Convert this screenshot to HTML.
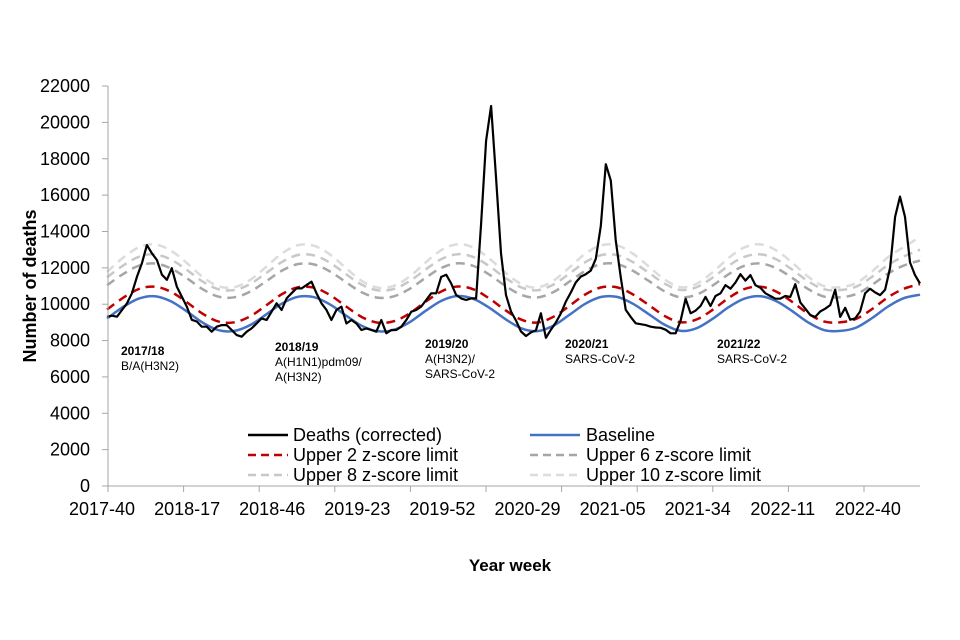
<!DOCTYPE html>
<html><head><meta charset="utf-8"><style>
body{margin:0;background:#fff;}
svg{display:block;font-family:"Liberation Sans",Arial,sans-serif;}
</style></head><body>
<svg id="chart" width="960" height="640" viewBox="0 0 960 640" xmlns="http://www.w3.org/2000/svg">
<rect width="960" height="640" fill="#fff"/>
<g id="grid"></g>
<g id="series"></g>
<g id="axes"></g>
<text x="0" y="0" transform="translate(36,286) rotate(-90)" text-anchor="middle" font-size="18" font-weight="bold">Number of deaths</text>
<text x="510" y="571" text-anchor="middle" font-size="17" font-weight="bold">Year week</text>
<g font-size="12">
<text x="121" y="355" font-weight="bold">2017/18</text><text x="121" y="370">B/A(H3N2)</text>
<text x="275" y="351" font-weight="bold">2018/19</text><text x="275" y="366">A(H1N1)pdm09/</text><text x="275" y="381">A(H3N2)</text>
<text x="425" y="348" font-weight="bold">2019/20</text><text x="425" y="363">A(H3N2)/</text><text x="425" y="378">SARS-CoV-2</text>
<text x="565" y="348" font-weight="bold">2020/21</text><text x="565" y="363">SARS-CoV-2</text>
<text x="717" y="348" font-weight="bold">2021/22</text><text x="717" y="363">SARS-CoV-2</text>
</g>
<g font-size="18">
<g><line x1="248" y1="435" x2="288" y2="435" stroke="#000" stroke-width="2.5"/><text x="293" y="441">Deaths (corrected)</text></g>
<g><line x1="530" y1="435" x2="580" y2="435" stroke="#4472c4" stroke-width="2.5"/><text x="586" y="441">Baseline</text></g>
<g><line x1="248" y1="455" x2="288" y2="455" stroke="#c00000" stroke-width="2.5" stroke-dasharray="8,5"/><text x="293" y="461">Upper 2 z-score limit</text></g>
<g><line x1="530" y1="455" x2="580" y2="455" stroke="#a6a6a6" stroke-width="2.5" stroke-dasharray="8,5"/><text x="586" y="461">Upper 6 z-score limit</text></g>
<g><line x1="248" y1="475" x2="288" y2="475" stroke="#c8c8c8" stroke-width="2.5" stroke-dasharray="8,5"/><text x="293" y="481">Upper 8 z-score limit</text></g>
<g><line x1="530" y1="475" x2="580" y2="475" stroke="#dcdcdc" stroke-width="2.5" stroke-dasharray="8,5"/><text x="586" y="481">Upper 10 z-score limit</text></g>
</g>
</svg>
<script>
const yTicks = [0,2000,4000,6000,8000,10000,12000,14000,16000,18000,20000,22000];
const xTickLabels = ["2017-40","2018-17","2018-46","2019-23","2019-52","2020-29","2021-05","2021-34","2022-11","2022-40"];
const baseline = [9210,9840,10310,10440,10165,9610,8990,8570,8530,8860,9445,10050,10410,10385,9980,9375,8800,8510,8590,9015,9640,10200,10450,10290,9795,9175,8670,8520,8820,9410,10020,10400,10400,10020,9445,8860,8530,8685,9205,9840,10310,10440,10165,9610,8990,8570,8530,8715,9240,9875,10335,10520];
const upper2 = [9705,10345,10835,10965,10685,10115,9475,9045,9005,9345,9945,10565,10935,10905,10495,9875,9285,8985,9065,9505,10145,10715,10975,10815,10305,9665,9145,8995,9305,9905,10535,10925,10925,10535,9945,9345,9005,9165,9695,10345,10835,10965,10685,10115,9475,9045,9005,9195,9735,10385,10855,11100];
const upper6 = [11045,11650,12115,12240,11975,11435,10825,10415,10380,10700,11270,11860,12210,12185,11795,11205,10645,10360,10435,10855,11460,12005,12250,12100,11615,11005,10510,10370,10665,11235,11830,12205,12205,11830,11270,10700,10380,10530,11035,11650,12115,12240,11975,11435,10825,10415,10380,10560,11070,11690,12135,12400];
const upper8 = [11480,12120,12610,12740,12460,11890,11250,10820,10780,11120,11720,12340,12710,12680,12270,11650,11060,10760,10840,11280,11920,12490,12750,12590,12080,11440,10920,10770,11080,11680,12310,12700,12700,12310,11720,11120,10780,10940,11470,12120,12610,12740,12460,11890,11250,10820,10780,10970,11510,12160,12630,13000];
const upper10 = [11775,12545,13130,13290,12950,12270,11500,10985,10935,11345,12065,12810,13250,13215,12725,11980,11270,10910,11010,11535,12305,12990,13300,13110,12495,11730,11105,10925,11295,12015,12770,13240,13240,12770,12065,11345,10935,11130,11765,12545,13130,13290,12950,12270,11500,10985,10935,11165,11810,12590,13155,13700];
const deaths = [9310,9370,9310,9680,10050,10600,11500,12250,13250,12800,12430,11620,11340,11980,10970,10420,9870,9140,9050,8760,8760,8490,8760,8850,8850,8580,8300,8210,8490,8670,8940,9220,9130,9590,10050,9680,10320,10600,10870,10870,11050,11240,10600,10050,9680,9130,9680,9870,8940,9130,8940,8580,8670,8580,8490,9130,8400,8580,8580,8760,9130,9590,9680,9870,10230,10600,10600,11500,11620,11140,10510,10320,10230,10320,10320,14430,19000,20900,17000,12800,10500,9600,9100,8500,8250,8450,8560,9500,8150,8600,9000,9500,10150,10650,11200,11520,11650,11850,12500,14300,17700,16800,13530,11500,9700,9300,8950,8900,8850,8760,8720,8700,8600,8400,8400,9100,10300,9500,9650,9900,10400,9900,10450,10600,11050,10850,11200,11650,11300,11600,11050,10900,10600,10450,10300,10300,10450,10400,11100,10100,9750,9400,9300,9600,9750,9950,10800,9300,9800,9150,9220,9600,10600,10850,10650,10500,10800,12000,14800,15920,14800,12300,11600,11140];

const NS='http://www.w3.org/2000/svg';
const X0=108, X1=920, Y0=486, PXK=18.18;
function yScale(v){return Y0 - v/1000*PXK;}
function xScale(i,n){return 107 + i*(X1-107)/(n-1);}
function mk(tag,attrs,parent){const e=document.createElementNS(NS,tag);for(const k in attrs)e.setAttribute(k,attrs[k]);parent.appendChild(e);return e;}
const axes=document.getElementById('axes'), series=document.getElementById('series');

const yAxis=mk('line',{x1:X0,y1:Y0,x2:X0,y2:yScale(22000),stroke:'#a6a6a6','stroke-width':1},axes);


const xAxis=mk('line',{x1:X0,y1:Y0,x2:X1,y2:Y0,stroke:'#a6a6a6','stroke-width':1},axes);


yTicks.forEach(v=>{
  const y=yScale(v);
  mk('line',{x1:X0-6,y1:y,x2:X0,y2:y,stroke:'#a6a6a6'},axes);
  const t=mk('text',{x:90,y:y+6,'text-anchor':'end','font-size':18},axes);
  
  
  t.textContent=v;
});
for(let k=0;k<=10;k++){const x=X0+k*75.6;mk('line',{x1:x,y1:Y0,x2:x,y2:Y0+6,stroke:'#a6a6a6'},axes);}
xTickLabels.forEach((s,k)=>{
  const t=mk('text',{x:102+k*85.1,y:515,'text-anchor':'middle','font-size':18},axes);
  
  
  t.textContent=s;
});

function smoothPath(arr){
  const pts=arr.map((v,i)=>[xScale(i,arr.length),yScale(v)]);
  let d='M'+pts[0][0].toFixed(1)+','+pts[0][1].toFixed(1);
  for(let i=0;i<pts.length-1;i++){
    const p0=pts[Math.max(0,i-1)],p1=pts[i],p2=pts[i+1],p3=pts[Math.min(pts.length-1,i+2)];
    const c1=[p1[0]+(p2[0]-p0[0])/6,p1[1]+(p2[1]-p0[1])/6];
    const c2=[p2[0]-(p3[0]-p1[0])/6,p2[1]-(p3[1]-p1[1])/6];
    d+=' C'+c1.map(n=>n.toFixed(1)).join(',')+' '+c2.map(n=>n.toFixed(1)).join(',')+' '+p2[0].toFixed(1)+','+p2[1].toFixed(1);
  }
  return d;
}
function linePath(arr){return arr.map((v,i)=>(i?'L':'M')+xScale(i,arr.length).toFixed(1)+','+yScale(v).toFixed(1)).join(' ');}

const u10=mk('path',{d:smoothPath(upper10),fill:'none',stroke:'#dcdcdc','stroke-width':2.5,'stroke-dasharray':'9,6'},series);


const u8=mk('path',{d:smoothPath(upper8),fill:'none',stroke:'#c8c8c8','stroke-width':2.5,'stroke-dasharray':'9,6'},series);


const u6=mk('path',{d:smoothPath(upper6),fill:'none',stroke:'#a6a6a6','stroke-width':2.5,'stroke-dasharray':'9,6'},series);


const u2=mk('path',{d:smoothPath(upper2),fill:'none',stroke:'#c00000','stroke-width':2.5,'stroke-dasharray':'9,6'},series);


const bl=mk('path',{d:smoothPath(baseline),fill:'none',stroke:'#4472c4','stroke-width':2.5},series);


const dl=mk('path',{d:linePath(deaths),fill:'none',stroke:'#000','stroke-width':2.2,'stroke-linejoin':'round'},series);


</script>
</body></html>
